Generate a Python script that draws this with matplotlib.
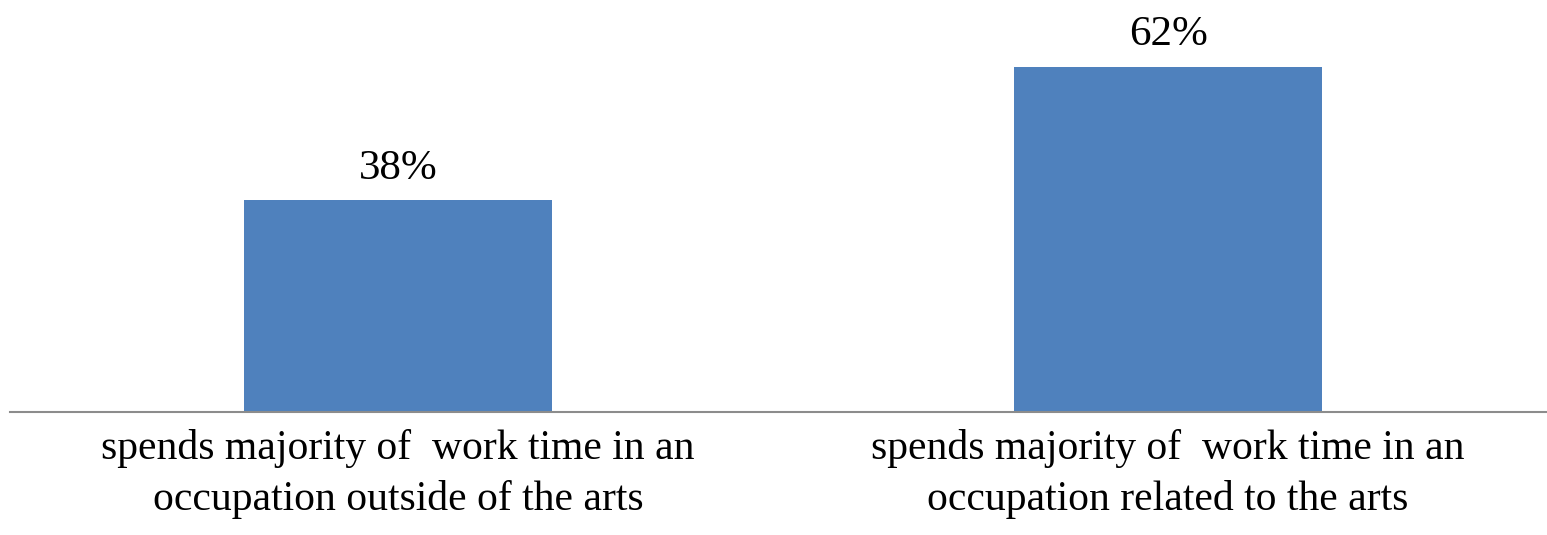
import matplotlib.pyplot as plt

categories = ["spends majority of  work time in an\noccupation outside of the arts",
              "spends majority of  work time in an\noccupation related to the arts"]
values = [38, 62]
value_labels = ["38%", "62%"]

plt.rcParams['font.family'] = ['Liberation Serif', 'DejaVu Serif']

fig = plt.figure(figsize=(15.47, 5.35), dpi=100)
# axes spans from baseline (y=412px) to near top
ax = fig.add_axes([10 / 1547, 1 - 412 / 535, 1 - 10 / 1547, (412 - 22) / 535])

x = range(len(values))
bars = ax.bar(x, values, width=0.4, color="#4f81bd")

for b, lab in zip(bars, value_labels):
    ax.text(b.get_x() + b.get_width() / 2, b.get_height() + 2.2, lab,
            ha="center", va="bottom", fontsize=31)

ax.set_xlim(-0.504, 1.492)
ax.set_ylim(0, 390 / 5.57)
ax.set_xticks(list(x))
ax.set_xticklabels(categories, fontsize=30, linespacing=1.42)
ax.tick_params(axis="x", length=0, pad=12)
ax.set_yticks([])
for s in ["top", "right", "left"]:
    ax.spines[s].set_visible(False)
ax.spines["bottom"].set_color("#8c8c8c")
ax.spines["bottom"].set_linewidth(1.5)

fig.savefig("out.png", dpi=100)
